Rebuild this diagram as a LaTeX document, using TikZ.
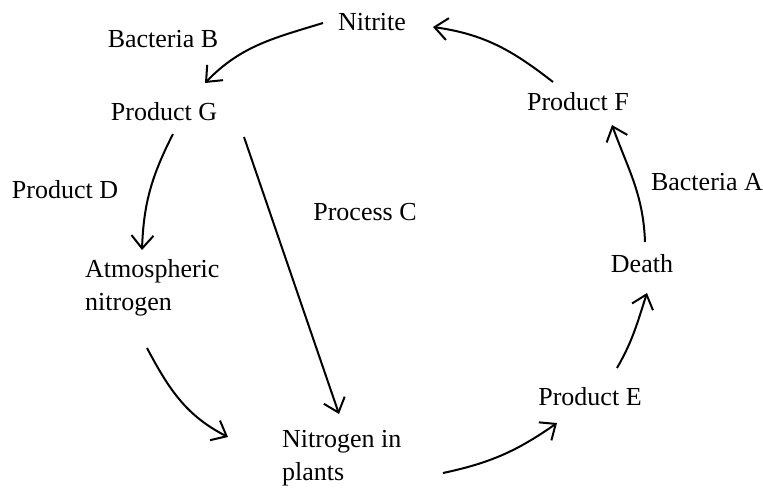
\documentclass[tikz,border=0pt]{standalone}
\usepackage{fontspec}
\setmainfont{Liberation Serif}
\usetikzlibrary{arrows.meta}
\begin{document}
\begin{tikzpicture}[x=1pt,y=-1pt,
  lbl/.style={inner sep=0pt,anchor=base,font=\fontsize{26}{33}\selectfont},
  mlbl/.style={inner sep=0pt,anchor=north west,align=left,font=\fontsize{26}{33}\selectfont},
  conn/.style={line width=2pt,-{Straight Barb[length=13pt,width=22pt,line width=2pt]}}]
\useasboundingbox (0,0) rectangle (763,488);
\node[lbl] (n) at (372,30) {Nitrite};
\node[lbl] (bb) at (163,47) {Bacteria B};
\node[lbl] (g) at (164,120) {Product G};
\node[lbl] (pd) at (65,198) {Product D};
\node[lbl] (pc) at (365,220) {Process C};
\node[mlbl] (a) at (85,259) {Atmospheric\\nitrogen};
\node[lbl] (d) at (642,272) {Death};
\node[lbl] (ba) at (707,190) {Bacteria A};
\node[lbl] (f) at (578,110) {Product F};
\node[lbl] (e) at (590,405) {Product E};
\node[mlbl] (p) at (282,430) {Nitrogen in\\plants};
\draw[conn] ([shift={(-49,-7)}]n.base) to[out=197,in=46] ([shift={(41,-37)}]g.base);
\draw[conn] ([shift={(-25,-28)}]f.base) to[out=142,in=352] ([shift={(61,-3)}]n.base);
\draw[conn] ([shift={(3,-30)}]d.base) to[out=92,in=290] ([shift={(34,15)}]f.base);
\draw[conn] ([shift={(27,-37)}]e.base) to[out=60,in=252] ([shift={(5,21)}]d.base);
\draw[conn] ([shift={(161,43)}]p.north west) to[out=12,in=215] ([shift={(-33,18)}]e.base);
\draw[conn] ([shift={(62,89)}]a.north west) to[out=298,in=153] ([shift={(-54,7)}]p.north west);
\draw[conn] ([shift={(9,14)}]g.base) to[out=243,in=88] ([shift={(57,-9)}]a.north west);
\draw[conn] ([shift={(80,17)}]g.base) -- ([shift={(57,-16)}]p.north west);
\end{tikzpicture}
\end{document}
